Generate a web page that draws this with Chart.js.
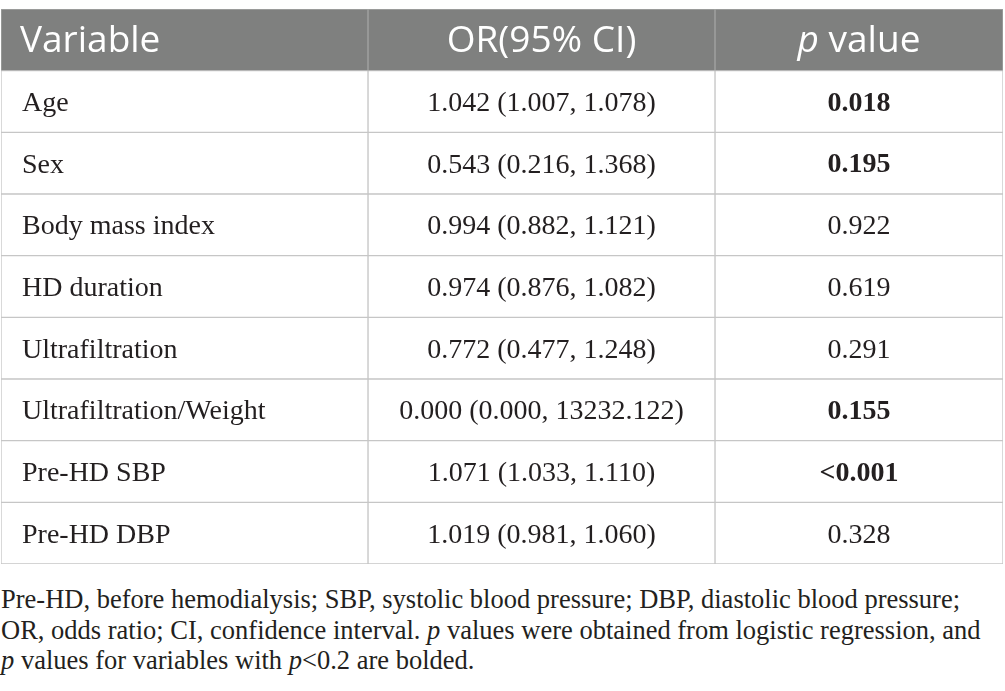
<!DOCTYPE html>
<html>
<head>
<meta charset="utf-8">
<script src="https://cdn.jsdelivr.net/npm/chart.js@4.4.0/dist/chart.umd.min.js"></script>
<style>
  html, body { margin: 0; padding: 0; background: #fff; }
  #wrap { position: relative; width: 1005px; height: 564px; }
  #note {
    position: absolute; left: 1px; top: 584px; width: 1004px;
    font-family: 'Liberation Serif', serif; font-size: 26.5px; line-height: 30.5px;
    color: #231f20; white-space: nowrap;
  }
</style>
</head>
<body>
<div id="wrap"><canvas id="tableChart"></canvas></div>
<div id="note">Pre-HD, before hemodialysis; SBP, systolic blood pressure; DBP, diastolic blood pressure;<br>OR, odds ratio; CI, confidence interval. <i>p</i> values were obtained from logistic regression, and<br><i>p</i> values for variables with <i>p</i>&lt;0.2 are bolded.</div>
<script>
// table content
const headers = ['Variable', 'OR(95% CI)', 'p value'];
const variables = ['Age', 'Sex', 'Body mass index', 'HD duration', 'Ultrafiltration',
                   'Ultrafiltration/Weight', 'Pre-HD SBP', 'Pre-HD DBP'];
const oddsRatios = ['1.042', '0.543', '0.994', '0.974', '0.772', '0.000', '1.071', '1.019'];
const ciLower = ['1.007', '0.216', '0.882', '0.876', '0.477', '0.000', '1.033', '0.981'];
const ciUpper = ['1.078', '1.368', '1.121', '1.082', '1.248', '13232.122', '1.110', '1.060'];
const pValues = ['0.018', '0.195', '0.922', '0.619', '0.291', '0.155', '<0.001', '0.328'];
const boldCutoff = 0.2;

// layout: column edges on the x scale (pixels of the chart area)
const COL_EDGES = [0, 367, 714, 1002];
const HEADER_BG = '#7f807f';
const HEADER_LINE = '#a3a4a3';
const CELL_LINE = '#c6c6c6';
const TEXT_COLOR = '#231f20';
const HEAD_FONT = '37px "Open Sans"';
const HEAD_FONT_IT = 'italic 37px "Open Sans"';

const rowLabels = ['header'].concat(variables);

function cellValue(col, row) {
  if (row == 0) return headers[col];
  const i = row - 1;
  if (col == 0) return variables[i];
  if (col == 1) return oddsRatios[i] + ' (' + ciLower[i] + ', ' + ciUpper[i] + ')';
  return pValues[i];
}

const cellText = {
  id: 'cellText',
  afterDatasetsDraw(chart) {
    const ctx = chart.ctx;
    ctx.save();
    ctx.textBaseline = 'middle';
    chart.data.datasets.forEach((ds, col) => {
      chart.getDatasetMeta(col).data.forEach((bar, row) => {
        const left = Math.min(bar.x, bar.base);
        const right = Math.max(bar.x, bar.base);
        const mid = (left + right) / 2;
        const text = cellValue(col, row);
        if (row == 0) {
          const cy = bar.y + 2;
          ctx.fillStyle = '#ffffff';
          ctx.font = HEAD_FONT;
          if (col == 0) {
            ctx.textAlign = 'left';
            ctx.fillText(text, left + 19, cy);
          } else if (col == 1) {
            ctx.textAlign = 'center';
            ctx.fillText(text, mid, cy);
          } else {
            // italic p, then " value"
            ctx.textAlign = 'left';
            ctx.font = HEAD_FONT_IT;
            const pw = ctx.measureText('p').width;
            ctx.font = HEAD_FONT;
            const rest = text.slice(1);
            const rw = ctx.measureText(rest).width;
            const x0 = mid - (pw + rw) / 2;
            ctx.font = HEAD_FONT_IT;
            ctx.fillText('p', x0, cy);
            ctx.font = HEAD_FONT;
            ctx.fillText(rest, x0 + pw, cy);
          }
          return;
        }
        const cy = bar.y + 2;
        ctx.fillStyle = TEXT_COLOR;
        let weight = '';
        if (col == 2 && parseFloat(text.replace('<', '')) < boldCutoff) weight = 'bold ';
        ctx.font = weight + '28px "Liberation Serif"';
        if (col == 0) {
          ctx.textAlign = 'left';
          ctx.fillText(text, left + 21, cy);
        } else {
          ctx.textAlign = 'center';
          ctx.fillText(text, mid, cy);
        }
      });
    });
    ctx.restore();
  }
};

function makeColumn(col) {
  return {
    label: headers[col],
    data: rowLabels.map(() => [COL_EDGES[col], COL_EDGES[col + 1]]),
    backgroundColor: c => c.dataIndex == 0 ? HEADER_BG : '#ffffff',
    borderColor: c => c.dataIndex == 0 ? HEADER_LINE : CELL_LINE,
    borderWidth: 1,
    borderSkipped: false,
    categoryPercentage: 1,
    barPercentage: 1,
    grouped: false
  };
}

window.addEventListener('load', setup);

function setup() {
  const ctx = document.getElementById('tableChart').getContext('2d');
  new Chart(ctx, {
    type: 'bar',
    data: {
      labels: rowLabels,
      datasets: [makeColumn(0), makeColumn(1), makeColumn(2)]
    },
    options: {
      indexAxis: 'y',
      responsive: true,
      maintainAspectRatio: false,
      animation: false,
      layout: { padding: { top: 9, left: 1, right: 2, bottom: 0 } },
      scales: {
        x: { type: 'linear', min: 0, max: 1002, display: false },
        y: { type: 'category', display: false, offset: true }
      },
      plugins: {
        legend: { display: false },
        tooltip: { enabled: false }
      }
    },
    plugins: [cellText]
  });
}
</script>
</body>
</html>
